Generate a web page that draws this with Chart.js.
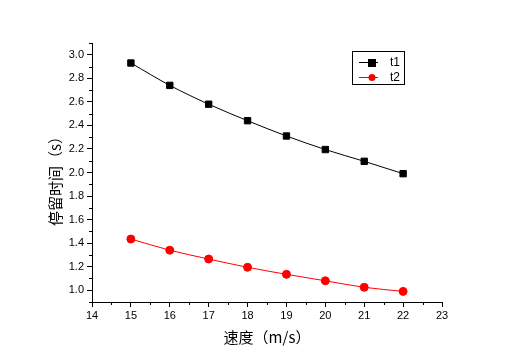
<!DOCTYPE html>
<html>
<head>
<meta charset="utf-8">
<script src="https://cdn.jsdelivr.net/npm/chart.js@4/dist/chart.umd.min.js"></script>
<style>
  html, body { margin: 0; padding: 0; background: #fff; }
  #wrap { width: 515px; height: 362px; }
</style>
</head>
<body>
<div id="wrap"><canvas id="myChart" width="515" height="362"></canvas></div>
<script>
// speeds (m/s)
var speeds = [15, 16, 17, 18, 19, 20, 21, 22];
// residence time series (s)
var t1 = [2.93, 2.74, 2.58, 2.44, 2.31, 2.195, 2.095, 1.99];
var t2 = [1.435, 1.34, 1.265, 1.195, 1.135, 1.08, 1.025, 0.99];
var seriesNames = ["t1", "t2"];

function pts(vals) {
  return speeds.map(function(s, i) { return { x: s, y: vals[i] }; });
}

// minor ticks drawn between the major ones
var minorTicks = {
  id: 'minorTicks',
  afterDraw: function(chart) {
    var ctx = chart.ctx;
    var xs = chart.scales.x, ys = chart.scales.y;
    ctx.save();
    ctx.strokeStyle = '#000';
    ctx.lineWidth = 1;
    ctx.beginPath();
    for (var v = 14.5; v < 23; v += 1) {
      var px = Math.round(xs.getPixelForValue(v)) + 0.5;
      ctx.moveTo(px, xs.top);
      ctx.lineTo(px, xs.top + 3);
    }
    for (var k = 9; k <= 31; k += 2) {
      var py = Math.round(ys.getPixelForValue(k / 10)) + 0.5;
      ctx.moveTo(ys.right, py);
      ctx.lineTo(ys.right - 3, py);
    }
    ctx.stroke();
    ctx.restore();
  }
};

// boxed legend inside the plot
var boxLegend = {
  id: 'boxLegend',
  afterDraw: function(chart) {
    var ctx = chart.ctx;
    ctx.save();
    ctx.strokeStyle = '#000';
    ctx.lineWidth = 1;
    ctx.strokeRect(352.5, 51.5, 52, 33);
    ctx.font = '12px "Liberation Sans", Arial, sans-serif';
    ctx.textBaseline = 'middle';
    chart.data.datasets.forEach(function(ds, i) {
      var y = 62 + i * 15;
      ctx.strokeStyle = ds.borderColor;
      ctx.beginPath();
      ctx.moveTo(359, y + 0.5);
      ctx.lineTo(378, y + 0.5);
      ctx.stroke();
      ctx.fillStyle = ds.pointBackgroundColor;
      if (ds.pointStyle === 'rect') {
        ctx.fillRect(368, y - 3, 8, 8);
      } else {
        ctx.beginPath();
        ctx.arc(372, y + 0.5, 3.5, 0, Math.PI * 2);
        ctx.fill();
      }
      ctx.fillStyle = '#000';
      ctx.fillText(seriesNames[i], 390, y + 1);
    });
    ctx.restore();
  }
};

var ctx = document.getElementById('myChart');

var myChart = new Chart(ctx, {
  type: 'line',
  data: {
    datasets: [
      {
        label: seriesNames[0],
        data: pts(t1),
        borderColor: '#000',
        backgroundColor: '#000',
        pointBackgroundColor: '#000',
        pointBorderColor: '#000',
        pointStyle: 'rect',
        pointRadius: 4.5,
        borderWidth: 1,
        cubicInterpolationMode: 'monotone'
      },
      {
        label: seriesNames[1],
        data: pts(t2),
        borderColor: '#ff0000',
        backgroundColor: '#ff0000',
        pointBackgroundColor: '#ff0000',
        pointBorderColor: '#ff0000',
        pointStyle: 'circle',
        pointRadius: 4,
        borderWidth: 1,
        cubicInterpolationMode: 'monotone'
      }
    ]
  },
  options: {
    responsive: false,
    animation: false,
    layout: { padding: { top: 43, right: 73, left: 46, bottom: 16 } },
    plugins: {
      legend: { display: false },
      tooltip: { enabled: false }
    },
    scales: {
      x: {
        type: 'linear',
        min: 14,
        max: 23,
        afterFit: function(s) { s.height = 44; },
        ticks: {
          stepSize: 1,
          color: '#000',
          padding: 2,
          font: { family: '"Liberation Sans", Arial, sans-serif', size: 11 }
        },
        grid: { drawOnChartArea: false, tickLength: 5, color: '#000' },
        border: { display: true, color: '#000', width: 1 },
        title: {
          display: true,
          text: '速度（m/s）',
          color: '#000',
          padding: { top: 0, bottom: 0 },
          font: { family: '"Noto Sans CJK SC", sans-serif', size: 15 }
        }
      },
      y: {
        min: 0.9,
        max: 3.1,
        afterFit: function(s) { s.width = 46; },
        afterBuildTicks: function(s) {
          var arr = [];
          for (var k = 10; k <= 30; k += 2) arr.push({ value: k / 10 });
          s.ticks = arr;
        },
        ticks: {
          color: '#000',
          padding: 3,
          callback: function(v) { return v.toFixed(1); },
          font: { family: '"Liberation Sans", Arial, sans-serif', size: 11 }
        },
        grid: { drawOnChartArea: false, tickLength: 5, color: '#000' },
        border: { display: true, color: '#000', width: 1 },
        title: {
          display: true,
          text: '停留时间（s）   ',
          color: '#000',
          padding: { top: 0, bottom: 0 },
          font: { family: '"Noto Sans CJK SC", sans-serif', size: 15 }
        }
      }
    }
  },
  plugins: [minorTicks, boxLegend]
});
</script>
</body>
</html>
